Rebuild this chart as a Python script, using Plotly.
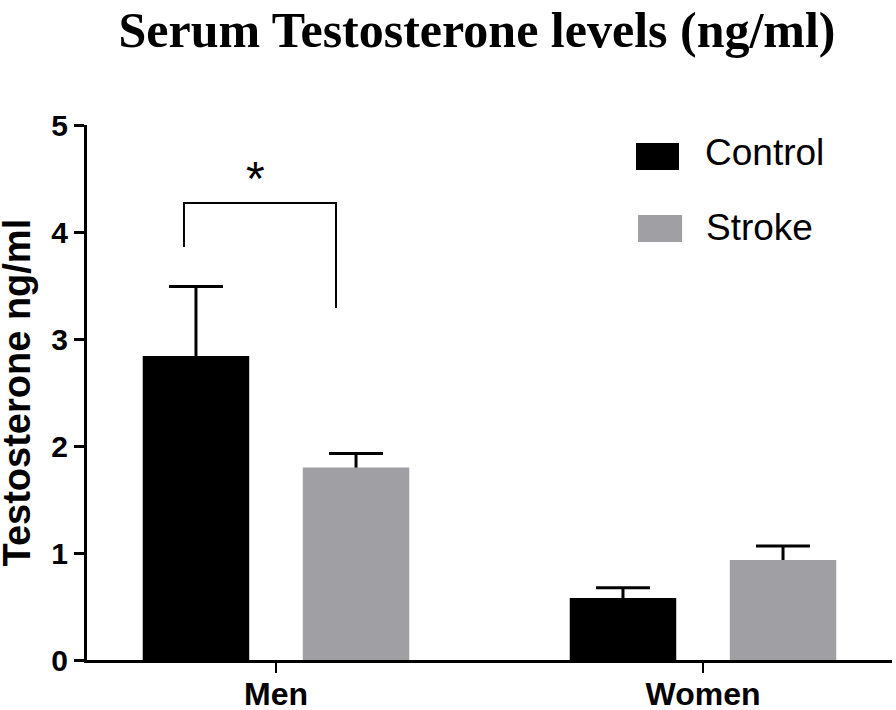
import plotly.graph_objects as go

# ---- data ----
categories = ["Men", "Women"]
series_names = ["Control", "Stroke"]
control_values = [2.84, 0.58]
control_errors = [0.65, 0.095]
stroke_values = [1.80, 0.935]
stroke_errors = [0.13, 0.13]
y_ticks = [0, 1, 2, 3, 4, 5]
colors = ["#000000", "#a0a0a4"]

title_text = "Serum Testosterone levels (ng/ml)"
y_title = "Testosterone ng/ml"

BAR_W = 0.2494
OFFS = [-0.1874, 0.1874]
SANS = "Liberation Sans, Arial, sans-serif"

fig = go.Figure()

vals = [control_values, stroke_values]
errs = [control_errors, stroke_errors]

# error bars first (hidden bars) so the real bars cover their lower halves
for i in range(2):
    fig.add_trace(go.Bar(
        x=categories, y=vals[i], width=BAR_W, offset=OFFS[i] - BAR_W / 2,
        marker=dict(color="rgba(0,0,0,0)", line=dict(width=0)),
        error_y=dict(type="data", array=errs[i], symmetric=True,
                     color="#000000", thickness=3, width=27),
        showlegend=False, hoverinfo="skip"))

for i in range(2):
    fig.add_trace(go.Bar(
        x=categories, y=vals[i], width=BAR_W, offset=OFFS[i] - BAR_W / 2,
        name=series_names[i],
        marker=dict(color=colors[i], line=dict(width=0)),
        showlegend=False))

# significance bracket
bx0, bx1 = -0.2155, 0.1405
fig.add_shape(type="path",
              path=f"M {bx0},3.86 L {bx0},4.27 L {bx1},4.27 L {bx1},3.29",
              xref="x", yref="y", line=dict(color="#000000", width=2))
fig.add_annotation(x=-0.049, y=4.50, xref="x", yref="y", text="*",
                   showarrow=False, font=dict(family=SANS, size=48, color="#000000"),
                   yanchor="middle")

# custom legend
leg = [((0.682, 0.7354), (0.9159, 0.9664), 0.7652, 0.9477),
       ((0.6845, 0.7392), (0.7813, 0.8318), 0.7665, 0.8075)]
for i, ((x0, x1), (y0, y1), tx, ty) in enumerate(leg):
    fig.add_shape(type="rect", xref="paper", yref="paper",
                  x0=x0, x1=x1, y0=y0, y1=y1,
                  fillcolor=colors[i], line=dict(width=0))
    fig.add_annotation(xref="paper", yref="paper", x=tx, y=ty,
                       text=series_names[i], showarrow=False,
                       xanchor="left", yanchor="middle",
                       font=dict(family=SANS, size=37, color="#000000"))

# y axis title
fig.add_annotation(xref="paper", yref="paper", x=-0.087, y=0.5,
                   text=f"<b>{y_title}</b>", textangle=-90, showarrow=False,
                   xanchor="center", yanchor="middle",
                   font=dict(family=SANS, size=38, color="#000000"))

fig.update_layout(
    width=896, height=710,
    barmode="overlay",
    paper_bgcolor="white", plot_bgcolor="white",
    margin=dict(l=87, r=4, t=125, b=50, autoexpand=False),
    title=dict(text=f"<b>{title_text}</b>", x=477 / 896, xanchor="center",
               y=1 - 12 / 710, yanchor="top", xref="container", yref="container",
               font=dict(family="Liberation Serif, Times New Roman, serif", size=50,
                         color="#000000")),
    showlegend=False,
)

fig.update_xaxes(
    type="category", range=[-0.4426, 1.4426], automargin=False,
    showline=True, linecolor="#000000", linewidth=3,
    ticks="outside", ticklen=10, tickwidth=2, tickcolor="#000000",
    ticklabelstandoff=-6,
    showgrid=False, zeroline=False,
    tickfont=dict(family=SANS, size=32, color="#000000", weight="bold"),
)
fig.update_yaxes(
    range=[0, 5], tickvals=y_ticks, ticktext=[str(t) for t in y_ticks],
    automargin=False,
    showline=True, linecolor="#000000", linewidth=3,
    ticks="outside", ticklen=10, tickwidth=2.5, tickcolor="#000000",
    showgrid=False, zeroline=False,
    tickfont=dict(family=SANS, size=30, color="#000000", weight="bold"),
)

fig.write_html(
    "out.html",
    config={"displayModeBar": False},
    post_script="document.body.style.margin='0';document.body.style.overflow='hidden';",
)
